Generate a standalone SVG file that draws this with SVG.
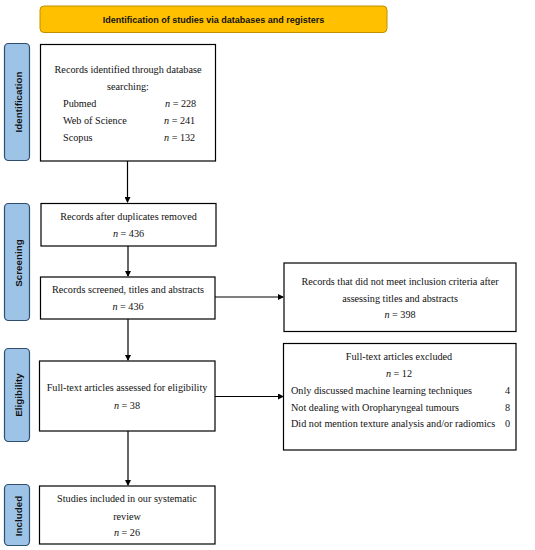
<svg xmlns="http://www.w3.org/2000/svg" width="535" height="550" viewBox="0 0 535 550">
<style>
.box{fill:#fff;stroke:#000;stroke-width:1.2}
.side{fill:#9DC3E6;stroke:#2F4F6F;stroke-width:1.2}
.hdr{fill:#FFC000;stroke:#C09000;stroke-width:1}
.t{font-family:"Liberation Serif","DejaVu Serif",serif;font-size:10.2px;fill:#111}
.c{text-anchor:middle}
.s{font-family:"Liberation Sans",Arial,sans-serif;font-weight:bold;font-size:9.8px;fill:#111;text-anchor:middle}
.h{font-family:"Liberation Sans",Arial,sans-serif;font-weight:bold;font-size:9px;fill:#111;text-anchor:middle}
.ln{stroke:#000;stroke-width:1.2;fill:none;marker-end:url(#ah)}
</style>
<defs>
<marker id="ah" markerWidth="6" markerHeight="6" refX="5" refY="3" orient="auto" markerUnits="userSpaceOnUse">
<path d="M0,0 L6,3 L0,6 Z" fill="#000"/>
</marker>
</defs>
<rect width="535" height="550" fill="#fff"/>
<g id="header">
<rect class="hdr" x="40" y="6" width="347" height="26.5" rx="4"/>
<text class="h" x="213.5" y="23">Identification of studies via databases and registers</text>
</g>
<g id="side-identification">
<rect class="side" x="4.5" y="43.5" width="25" height="117" rx="4"/>
<text class="s" transform="translate(22,102) rotate(-90)">Identification</text>
</g>
<g id="side-screening">
<rect class="side" x="4.5" y="203.5" width="25" height="117" rx="4"/>
<text class="s" transform="translate(22,263) rotate(-90)">Screening</text>
</g>
<g id="side-eligibility">
<rect class="side" x="4.5" y="348.5" width="25" height="93" rx="4"/>
<text class="s" transform="translate(22,395) rotate(-90)">Eligibility</text>
</g>
<g id="side-included">
<rect class="side" x="4.5" y="484.5" width="25" height="61" rx="4"/>
<text class="s" transform="translate(22,516) rotate(-90)">Included</text>
</g>
<g id="connectors">
<line class="ln" x1="127.5" y1="161" x2="127.5" y2="202"/>
<line class="ln" x1="128" y1="246" x2="128" y2="276"/>
<line class="ln" x1="215" y1="297" x2="283" y2="297"/>
<line class="ln" x1="128" y1="319" x2="128" y2="360"/>
<line class="ln" x1="215" y1="396.5" x2="283" y2="396.5"/>
<line class="ln" x1="128" y1="431" x2="128" y2="485"/>
</g>
<g id="records-identified">
<rect class="box" x="40.5" y="44.5" width="175" height="116.5"/>
<text class="t c" x="128" y="73">Records identified through database</text>
<text class="t c" x="128" y="90">searching:</text>
<text class="t" x="63" y="107">Pubmed</text>
<text class="t" x="165" y="107"><tspan font-style="italic">n</tspan> = 228</text>
<text class="t" x="63" y="124">Web of Science</text>
<text class="t" x="164" y="124"><tspan font-style="italic">n</tspan> = 241</text>
<text class="t" x="63" y="141">Scopus</text>
<text class="t" x="164" y="141"><tspan font-style="italic">n</tspan> = 132</text>
</g>
<g id="after-duplicates">
<rect class="box" x="41" y="203.5" width="175" height="42.5"/>
<text class="t c" x="128.5" y="220">Records after duplicates removed</text>
<text class="t c" x="128.5" y="237"><tspan font-style="italic">n</tspan> = 436</text>
</g>
<g id="screened">
<rect class="box" x="40.5" y="277" width="174.5" height="42"/>
<text class="t c" x="128" y="293">Records screened, titles and abstracts</text>
<text class="t c" x="128" y="310"><tspan font-style="italic">n</tspan> = 436</text>
</g>
<g id="not-meet-criteria">
<rect class="box" x="284" y="263" width="232" height="68.5"/>
<text class="t c" x="400" y="285">Records that did not meet inclusion criteria after</text>
<text class="t c" x="400" y="301.5">assessing titles and abstracts</text>
<text class="t c" x="400" y="318"><tspan font-style="italic">n</tspan> = 398</text>
</g>
<g id="full-text-assessed">
<rect class="box" x="39.5" y="361" width="175.5" height="70"/>
<text class="t c" x="127" y="391">Full-text articles assessed for eligibility</text>
<text class="t c" x="127" y="409"><tspan font-style="italic">n</tspan> = 38</text>
</g>
<g id="full-text-excluded">
<rect class="box" x="283.5" y="343.5" width="232.5" height="106.5"/>
<text class="t c" x="399" y="360">Full-text articles excluded</text>
<text class="t c" x="399" y="377"><tspan font-style="italic">n</tspan> = 12</text>
<text class="t" x="291" y="394">Only discussed machine learning techniques</text>
<text class="t" x="505" y="394">4</text>
<text class="t" x="291" y="410.5">Not dealing with Oropharyngeal tumours</text>
<text class="t" x="505" y="410.5">8</text>
<text class="t" x="291" y="427">Did not mention texture analysis and/or radiomics</text>
<text class="t" x="505" y="427">0</text>
</g>
<g id="included">
<rect class="box" x="39.5" y="486" width="175.5" height="58"/>
<text class="t c" x="127" y="502">Studies included in our systematic</text>
<text class="t c" x="127" y="519.5">review</text>
<text class="t c" x="127" y="535.5"><tspan font-style="italic">n</tspan> = 26</text>
</g>
</svg>
